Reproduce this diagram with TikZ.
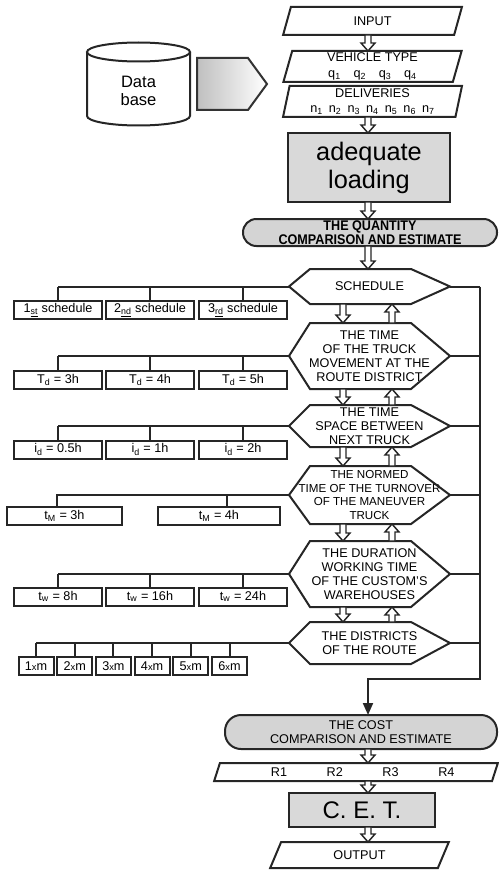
\documentclass[tikz,border=0pt]{standalone}
\usepackage{fontspec}
\setmainfont{Liberation Sans}
\newfontfamily\condsans[FakeStretch=0.9]{Liberation Sans}
\usetikzlibrary{calc,positioning,shapes.geometric,arrows.meta}
\newcommand\smx{{\fontsize{7}{7}\selectfont x}}

\begin{document}
\begin{tikzpicture}[x=0.75pt,y=0.75pt,yscale=-1,xscale=1,
    every node/.style={font=\fontsize{9.5}{10.5}\selectfont, inner sep=0.75pt, outer sep=0pt, align=center},
    ln/.style={draw=black!85, line width=1.5},
    box/.style={ln, rectangle, fill=black!15},
    opt/.style={ln, rectangle, fill=white, minimum width=66pt, minimum height=13.5pt},
    hexa/.style={rectangle, minimum width=120.75pt},
    term/.style={ln, rectangle, rounded corners=10pt, fill=black!17},
    para/.style={ln, trapezium, trapezium stretches=true, trapezium left angle=#1, trapezium right angle=180-#1},
    hollow/.style={draw=black!85, fill=white, line width=1.1, to path={
      ($(\tikztostart)+(-2.25pt,0)$) -- ($(\tikztotarget)!6pt!(\tikztostart)+(-2.25pt,0)$)
      -- ($(\tikztotarget)!6pt!(\tikztostart)+(-5.25pt,0)$) -- (\tikztotarget)
      -- ($(\tikztotarget)!6pt!(\tikztostart)+(5.25pt,0)$) -- ($(\tikztotarget)!6pt!(\tikztostart)+(2.25pt,0)$)
      -- ($(\tikztostart)+(2.25pt,0)$) -- cycle}}
  ]
\useasboundingbox (0,0) rectangle (499,870);
\coordinate (col) at (368,0);
\coordinate (rail) at (480,679);

%Shape: Can [id:database]
\draw [ln, fill=white] (87,52) -- (87,116) arc [start angle=180, end angle=0, x radius=51.5, y radius=9.5] -- (190,52) ;
\draw [ln, fill=white] (138.5,52) ellipse [x radius=51.5, y radius=9.5] ;
\node [font=\fontsize{12.4}{13.5}\selectfont] (db) at (138.5,91) {Data\\base};
%Shape: Pentagon Arrow
\draw [draw=black!80, line width=1.5, left color=black!25, right color=white] (197,58) -- (248,58) -- (267,84) -- (248,110) -- (197,110) -- cycle ;

% Input column
\node [para=80, minimum width=134.25pt, minimum height=21pt] (input) at (372.5,21) {INPUT};
\node [para=80, minimum width=134.25pt, minimum height=23.25pt] (vehicle) at (372.5,66.5) {VEHICLE TYPE\\[1pt]q\textsubscript{1}\quad q\textsubscript{2}\quad q\textsubscript{3}\quad q\textsubscript{4}};
\node [para=80, minimum width=134.25pt, minimum height=23.25pt] (deliv) at (372.5,101.5) {DELIVERIES\\[1pt]n\textsubscript{1}\hspace{4.5pt}n\textsubscript{2}\hspace{4.5pt}n\textsubscript{3}\hspace{4.5pt}n\textsubscript{4}\hspace{4.5pt}n\textsubscript{5}\hspace{4.5pt}n\textsubscript{6}\hspace{4.5pt}n\textsubscript{7}};
\node [box, minimum width=121.5pt, minimum height=51.75pt, font=\fontsize{19}{21}\selectfont] (adequate) at (369,167.5) {adequate\\loading};
\node [term, minimum width=190.5pt, minimum height=20.25pt, font=\condsans\bfseries\fontsize{10.5}{10.5}\selectfont] (quantity) at (370,232.5) {THE QUANTITY\\COMPARISON AND ESTIMATE};

% Hexagons
\node [hexa, minimum height=26.25pt] (sched) at (369.5,286.5) {SCHEDULE};
\node [hexa, minimum height=49.5pt] (move) at (369.5,356) {THE TIME\\OF THE TRUCK\\MOVEMENT AT THE\\ROUTE DISTRICT};
\node [hexa, minimum height=31.5pt] (space) at (369.5,426) {THE TIME\\SPACE BETWEEN\\NEXT TRUCK};
\node [hexa, minimum height=43.5pt, font=\fontsize{8.7}{10.2}\selectfont] (normed) at (369.5,495) {THE NORMED\\TIME OF THE TURNOVER\\OF THE MANEUVER\\TRUCK};
\node [hexa, minimum height=49.5pt] (duration) at (369.5,574) {THE DURATION\\WORKING TIME\\OF THE CUSTOM'S\\WAREHOUSES};
\node [hexa, minimum height=31.5pt] (district) at (369.5,643) {THE DISTRICTS\\OF THE ROUTE};
\foreach \h in {sched,move,space,normed,duration,district}
  \draw [ln] (\h.west) -- ($(\h.north west)+(21,0)$) -- ($(\h.north east)+(-39,0)$) -- (\h.east) -- ($(\h.south east)+(-39,0)$) -- ($(\h.south west)+(21,0)$) -- cycle ;

% Options
\node [opt] (s1) at (58,310) {1\textsubscript{\underline{st}} schedule};
\node [opt] (s2) at (150,310) {2\textsubscript{\underline{nd}} schedule};
\node [opt] (s3) at (243,310) {3\textsubscript{\underline{rd}} schedule};
\node [opt] (td1) at (58,380) {T\textsubscript{d} = 3h};
\node [opt] (td2) at (150,380) {T\textsubscript{d} = 4h};
\node [opt] (td3) at (243,380) {T\textsubscript{d} = 5h};
\node [opt] (id1) at (58,449.5) {i\textsubscript{d} = 0.5h};
\node [opt] (id2) at (150,449.5) {i\textsubscript{d} = 1h};
\node [opt] (id3) at (243,449.5) {i\textsubscript{d} = 2h};
\node [opt, minimum width=86.25pt] (tm1) at (64.5,516) {t\textsubscript{M} = 3h};
\node [opt, minimum width=91.5pt] (tm2) at (219,516) {t\textsubscript{M} = 4h};
\node [opt] (tw1) at (58,596.5) {t\textsubscript{w} = 8h};
\node [opt] (tw2) at (150,596.5) {t\textsubscript{w} = 16h};
\node [opt] (tw3) at (243,596.5) {t\textsubscript{w} = 24h};
\foreach \i in {1,...,6}
  \node [opt, minimum width=26.25pt] (m\i) at ({-2.7+38.7*\i},666) {\i\smx m};

% Output column
\node [term, minimum width=204pt, minimum height=25.5pt, rounded corners=12pt] (cost) at (361,732) {THE COST\\COMPARISON AND ESTIMATE};
\node [para=69, fill=white, minimum width=213pt, minimum height=13.5pt] (rvals) at (356,772) {\hspace*{10pt}R1\hspace{29.7pt}R2\hspace{29.7pt}R3\hspace{29.7pt}R4};
\node [box, minimum width=109.5pt, minimum height=25.5pt, font=\fontsize{18}{20}\selectfont] (cet) at (362,810) {C. E. T.};
\node [para=71, minimum width=134.25pt, minimum height=19.5pt] (output) at (359.5,855) {OUTPUT};

% Hollow arrows
\draw [hollow] (input.south -| col) to (vehicle.north -| col);
\draw [hollow] (deliv.south -| col) to (adequate.north -| col);
\draw [hollow] (adequate.south -| col) to (quantity.north -| col);
\draw [hollow] (quantity.south -| col) to (sched.north -| col);
\foreach \a/\b in {sched/move,move/space,space/normed,normed/duration,duration/district} {
  \draw [hollow] ($(\a.south)+(-26.5,0)$) to ($(\b.north)+(-26.5,0)$);
  \draw [hollow] ($(\b.north)+(22.5,0)$) to ($(\a.south)+(22.5,0)$);
}
\draw [hollow] (cost.south -| col) to (rvals.north -| col);
\draw [hollow] (rvals.south -| col) to (cet.north -| col);
\draw [hollow] (cet.south -| col) to (output.north -| col);

% Branches
\foreach \b in {s1,s2,s3} \draw [ln] (\b.north) -- (\b.north |- sched.west);
\draw [ln] (s1.north |- sched.west) -- (sched.west);
\foreach \b in {td1,td2,td3} \draw [ln] (\b.north) -- (\b.north |- move.west);
\draw [ln] (td1.north |- move.west) -- (move.west);
\foreach \b in {id1,id2,id3} \draw [ln] (\b.north) -- (\b.north |- space.west);
\draw [ln] (id1.north |- space.west) -- (space.west);
\coordinate (tmA) at ($(tm1.north west)+(50,0)$);
\coordinate (tmB) at ($(tm2.north west)+(69,0)$);
\draw [ln] (tmA) -- (tmA |- normed.west) -- (normed.west);
\draw [ln] (tmB) -- (tmB |- normed.west);
\foreach \b in {tw1,tw2,tw3} \draw [ln] (\b.north) -- (\b.north |- duration.west);
\draw [ln] (tw1.north |- duration.west) -- (duration.west);
\foreach \i in {1,...,6} \draw [ln] (m\i.north) -- (m\i.north |- district.west);
\draw [ln] (m1.north |- district.west) -- (district.west);

% Return line
\foreach \h in {sched,move,space,normed,duration,district} \draw [ln] (\h.east) -- (\h.east -| rail);
\draw [ln, -{Triangle[length=9pt,width=7.5pt]}] (sched.east -| rail) -- (rail) -- (rail -| col) -- (cost.north -| col);
\end{tikzpicture}
\end{document}
